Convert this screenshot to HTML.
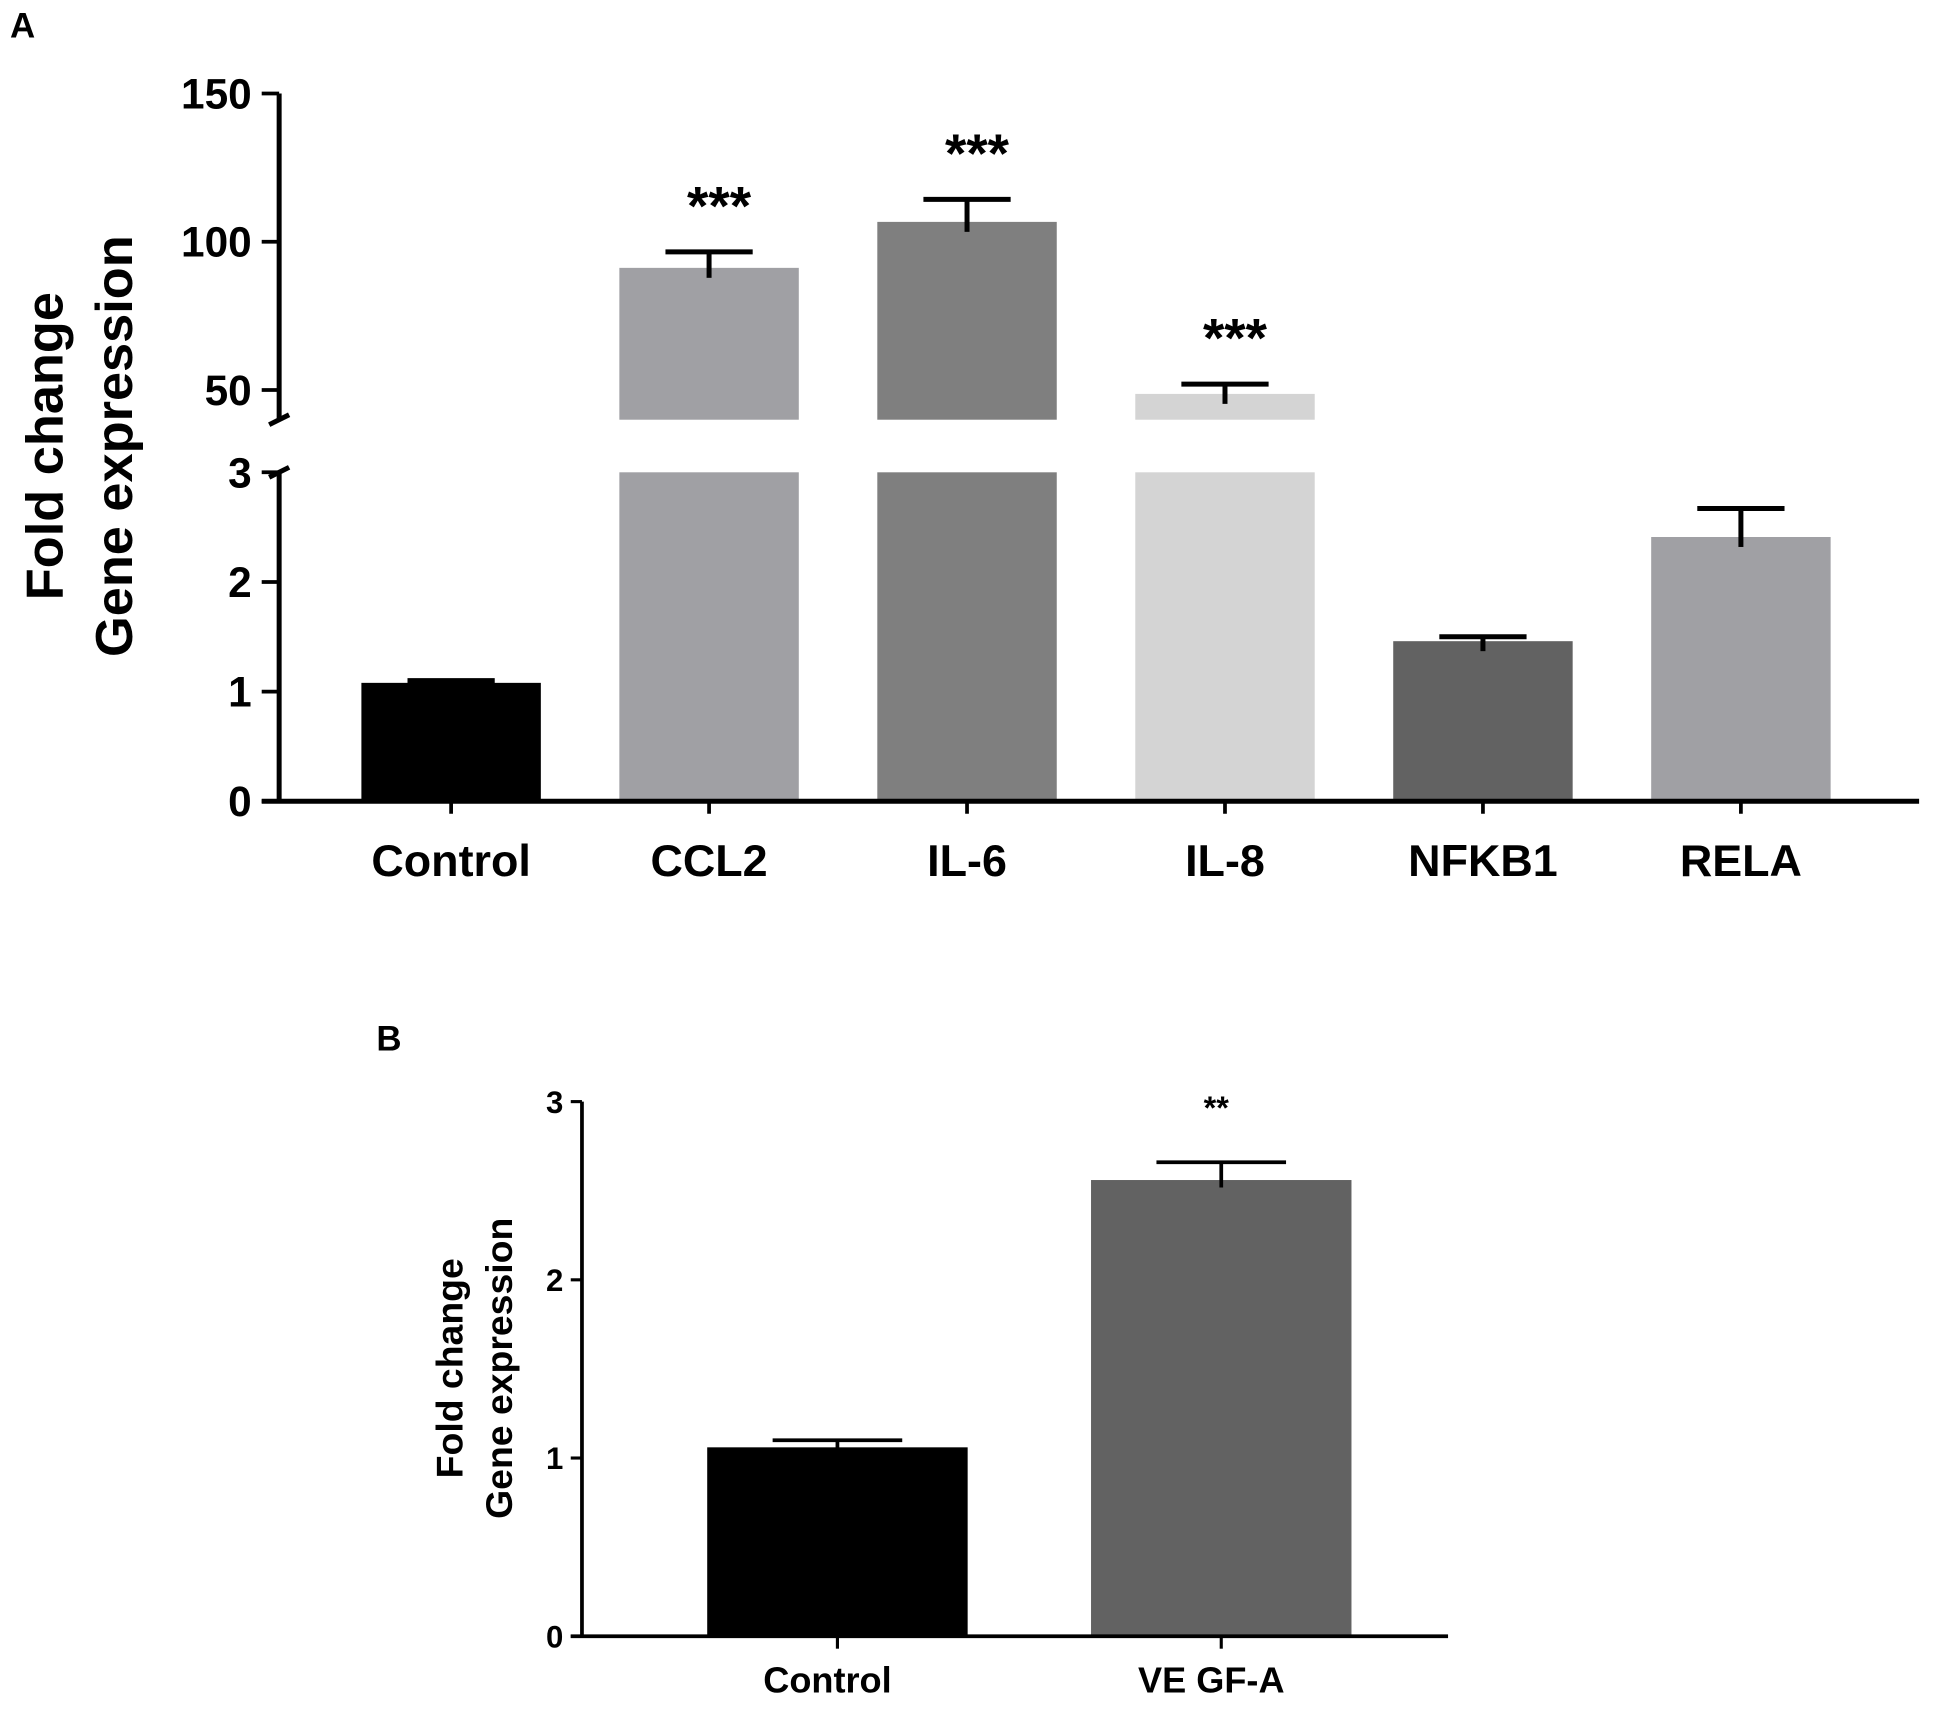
<!DOCTYPE html>
<html><head><meta charset="utf-8">
<style>
html,body{margin:0;padding:0;background:#fff;}
svg{display:block;}
text{font-family:"Liberation Sans",Arial,sans-serif;font-weight:bold;fill:#000;}
</style></head>
<body>
<svg id="fig" width="1954" height="1711" viewBox="0 0 1568 1373" xmlns="http://www.w3.org/2000/svg">
<g id="pa"></g>
<g id="pb"></g>
</svg>
<script>
// Panel A data
const catsA = ["Control","CCL2","IL-6","IL-8","NFKB1","RELA"];
const valsA = [1.08, 91.2, 106.7, 48.7, 1.46, 2.41];
const errsA = [1.10, 96.6, 114.3, 52.0, 1.50, 2.67];
const colsA = ["#000000","#a0a0a4","#7f7f7f","#d4d4d4","#626262","#a0a0a4"];
const starsA = ["","***","***","***","",""];
const lowTicksA = [0,1,2,3];
const highTicksA = [50,100,150];
// Panel B data
const catsB = ["Control","VEGF-A"];
const valsB = [1.06, 2.56];
const errsB = [1.10, 2.66];
const colsB = ["#000000","#626262"];
const starsB = ["","**"];
const ticksB = [0,1,2,3];

const NS="http://www.w3.org/2000/svg";
function mk(parent,tag,attrs,txt){const e=document.createElementNS(NS,tag);for(const k in attrs)e.setAttribute(k,attrs[k]);if(txt!==undefined)e.textContent=txt;parent.appendChild(e);return e;}

// ---- Panel A ----
const pa=document.getElementById('pa');
const yLow=v=>643-v*88;
const yHigh=v=>313-(v-50)*2.38;
const yA=v=>v<=3?yLow(v):yHigh(v);
const xA=i=>362+i*207;
const bwA=144;
let t;
t=mk(pa,'text',{x:8,y:30,'font-size':28},'A');


catsA.forEach((c,i)=>{
  const x=xA(i)-bwA/2,v=valsA[i];
  let b;
  if(v<=3){
    b=mk(pa,'rect',{x:x,y:yA(v),width:bwA,height:643-yA(v),fill:colsA[i]});
  } else {
    b=mk(pa,'g',{});
    mk(b,'rect',{x:x,y:yLow(3),width:bwA,height:643-yLow(3),fill:colsA[i]});
    mk(b,'rect',{x:x,y:yHigh(v),width:bwA,height:yHigh(40)-yHigh(v),fill:colsA[i]});
  }
  
  
  const e=errsA[i],ye=yA(e),yt=yA(v);
  const eb=mk(pa,'g',{stroke:'#000','stroke-width':4});
  mk(eb,'line',{x1:xA(i),x2:xA(i),y1:ye,y2:yt+8});
  mk(eb,'line',{x1:xA(i)-35,x2:xA(i)+35,y1:ye,y2:ye});
  
  
  if(starsA[i]){
    const s=mk(pa,'text',{x:xA(i)+8,y:ye-22,'font-size':44,'text-anchor':'middle'},starsA[i]);
    
    
  }
  const l=mk(pa,'text',{x:xA(i),y:703,'font-size':36,'text-anchor':'middle'},c);
  
  
  mk(pa,'line',{x1:xA(i),x2:xA(i),y1:643,y2:653,stroke:'#000','stroke-width':3});
});
const axA=mk(pa,'g',{stroke:'#000','stroke-width':4,fill:'none'});


mk(axA,'line',{x1:224,x2:224,y1:643,y2:yLow(3)});
mk(axA,'line',{x1:224,x2:224,y1:yHigh(40),y2:yHigh(150)});
mk(axA,'line',{x1:216,x2:232,y1:yHigh(40)+4,y2:yHigh(40)-4});
mk(axA,'line',{x1:216,x2:232,y1:yLow(3)+4,y2:yLow(3)-4});
const xaxA=mk(pa,'line',{x1:210,x2:1540,y1:643,y2:643,stroke:'#000','stroke-width':4});


lowTicksA.forEach(v=>{
  mk(pa,'line',{x1:210,x2:224,y1:yLow(v),y2:yLow(v),stroke:'#000','stroke-width':3});
  const tl=mk(pa,'text',{x:202,y:yLow(v)+12,'font-size':34,'text-anchor':'end'},String(v));
  
  
});
highTicksA.forEach(v=>{
  mk(pa,'line',{x1:210,x2:224,y1:yHigh(v),y2:yHigh(v),stroke:'#000','stroke-width':3});
  const tl=mk(pa,'text',{x:202,y:yHigh(v)+12,'font-size':34,'text-anchor':'end'},String(v));
  
  
});
t=mk(pa,'text',{x:0,y:0,'font-size':42,'text-anchor':'middle',transform:'translate(50,358) rotate(-90)'},'Fold change');


t=mk(pa,'text',{x:0,y:0,'font-size':42,'text-anchor':'middle',transform:'translate(106,358) rotate(-90)'},'Gene expression');



// ---- Panel B ----
const pb=document.getElementById('pb');
const yB=v=>1313-v*143;
const xB=i=>672+i*308;
const bwB=209;
t=mk(pb,'text',{x:302,y:843,'font-size':28},'B');


catsB.forEach((c,i)=>{
  const v=valsB[i];
  const b=mk(pb,'rect',{x:xB(i)-bwB/2,y:yB(v),width:bwB,height:1313-yB(v),fill:colsB[i]});
  
  
  const ye=yB(errsB[i]);
  const eb=mk(pb,'g',{stroke:'#000','stroke-width':3});
  mk(eb,'line',{x1:xB(i),x2:xB(i),y1:ye,y2:yB(v)+6});
  mk(eb,'line',{x1:xB(i)-52,x2:xB(i)+52,y1:ye,y2:ye});
  
  
  if(starsB[i]){
    const s=mk(pb,'text',{x:xB(i)-4,y:yB(3)+14,'font-size':26,'text-anchor':'middle',fill:'#555'},starsB[i]);
    
    
  }
  const l=mk(pb,'text',{x:xB(i)-8,y:1358,'font-size':29,'text-anchor':'middle'},c==="VEGF-A"?"VE GF-A":c);
  
  
  mk(pb,'line',{x1:xB(i),x2:xB(i),y1:1313,y2:1323,stroke:'#000','stroke-width':2.5});
});
const axB=mk(pb,'line',{x1:467,x2:467,y1:1313,y2:yB(3),stroke:'#000','stroke-width':3});


const xaxB=mk(pb,'line',{x1:458,x2:1162,y1:1313,y2:1313,stroke:'#000','stroke-width':3});


ticksB.forEach(v=>{
  mk(pb,'line',{x1:458,x2:467,y1:yB(v),y2:yB(v),stroke:'#000','stroke-width':2.5});
  const tl=mk(pb,'text',{x:452,y:yB(v)+9,'font-size':25,'text-anchor':'end'},String(v));
  
  
});
t=mk(pb,'text',{x:0,y:0,'font-size':30,'text-anchor':'middle',transform:'translate(371,1098) rotate(-90)'},'Fold change');


t=mk(pb,'text',{x:0,y:0,'font-size':30,'text-anchor':'middle',transform:'translate(411,1098) rotate(-90)'},'Gene expression');


</script>
</body></html>
